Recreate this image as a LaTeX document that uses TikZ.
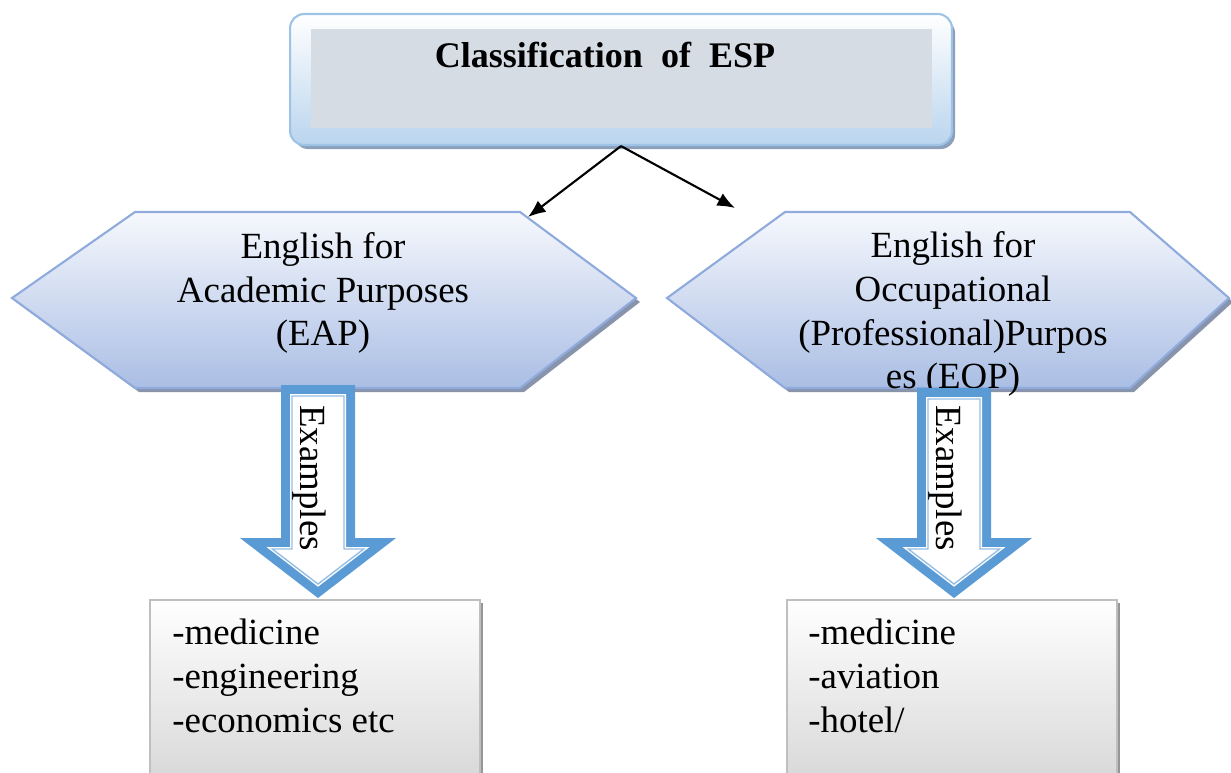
\documentclass[tikz,border=0pt]{standalone}
\usepackage{fontspec}
\setmainfont{Liberation Serif}
\usetikzlibrary{arrows.meta}
\definecolor{hexline}{RGB}{143,170,220}
\definecolor{hextop}{RGB}{246,248,253}
\definecolor{hexbot}{RGB}{170,190,228}
\definecolor{hexshade}{RGB}{135,148,172}
\definecolor{topline}{RGB}{157,195,230}
\definecolor{topblue}{RGB}{186,213,238}
\definecolor{topshade}{RGB}{140,160,188}
\definecolor{innergray}{RGB}{214,220,228}
\definecolor{exblue}{RGB}{91,155,213}
\definecolor{exthin}{RGB}{150,190,228}
\definecolor{listline}{RGB}{191,191,191}
\definecolor{listbot}{RGB}{216,216,216}
\definecolor{listshade}{RGB}{150,150,150}
\tikzset{
  bigtext/.style={font=\fontsize{21}{25}\selectfont},
  topbox/.style={draw=topline,line width=1.2pt,rounded corners=8pt,
    top color=white,bottom color=topblue,
    minimum width=13.24cm,minimum height=2.62cm},
  hexshape/.style={draw=hexline,line width=1.2pt,top color=hextop,bottom color=hexbot},
  hextext/.style={bigtext,align=center,inner sep=0pt},
  listbox/.style={draw=listline,line width=1.2pt,top color=white,bottom color=listbot},
  listtext/.style={bigtext,align=left,inner sep=0pt,anchor=north west},
  link/.style={-{Latex[length=10pt,width=8pt]},line width=1.2pt}
}
\begin{document}
\begin{tikzpicture}[x=0.02cm,y=-0.02cm]
  \useasboundingbox (0,0) rectangle (1231,772);
  % title box
  \fill [topshade,rounded corners=8pt] (294,19) rectangle (955,149);
  \node [topbox] (esp) at (621,79.5) {};
  \fill [innergray] (311,29) rectangle (932,128);
  \node [font=\fontsize{20.5}{25}\selectfont\bfseries] (title) at (605,55) {Classification\ \ of\ \ ESP};
  % connectors
  \coordinate (eapend) at (528,217);
  \coordinate (eopend) at (735,208);
  \draw [link] (esp.south) -- (eapend);
  \draw [link] (esp.south) -- (eopend);
  % the two kinds
  \fill [hexshade] (16,302) -- (139,216) -- (524,216) -- (640,302) -- (524,392) -- (139,392) -- cycle;
  \path [hexshape] (12,298) -- (135,212) -- (520,212) -- (636,298) -- (520,388) -- (135,388) -- cycle;
  \fill [hexshade] (671,302) -- (789,216) -- (1134,216) -- (1233,302) -- (1134,392) -- (789,392) -- cycle;
  \path [hexshape] (667,298) -- (785,212) -- (1130,212) -- (1229,298) -- (1130,388) -- (785,388) -- cycle;
  \node [hextext] (eap) at (323,293) {English for\\Academic Purposes\\(EAP)};
  \node [hextext] (eop) at (953,314) {English for\\Occupational\\(Professional)Purpos\\es (EOP)};
  % examples arrows
  \foreach \cx/\ty in {318/385,954/388} {
    \fill [exblue] ({\cx-37},\ty) -- ({\cx+37},\ty) -- ({\cx+37},538) -- ({\cx+78},538)
      -- (\cx,598) -- ({\cx-78},538) -- ({\cx-37},538) -- cycle;
    \fill [white] ({\cx-28},{\ty+9}) -- ({\cx+28},{\ty+9}) -- ({\cx+28},547) -- ({\cx+51.5},547)
      -- (\cx,586.7) -- ({\cx-51.5},547) -- ({\cx-28},547) -- cycle;
    \draw [exthin,line width=0.8pt] ({\cx-26},{\ty+11}) -- ({\cx+26},{\ty+11}) -- ({\cx+26},549) -- ({\cx+45.7},549)
      -- (\cx,584) -- ({\cx-45.7},549) -- ({\cx-26},549) -- cycle;
    \node [bigtext,rotate=-90] at ({\cx-9},478) {Examples};
  }
  % lists
  \fill [listshade] (153,603) rectangle (483,780);
  \path [listbox] (150,600) rectangle (480,780);
  \fill [listshade] (790,603) rectangle (1120,780);
  \path [listbox] (787,600) rectangle (1117,780);
  \node [listtext] (eaplist) at (172,619) {-medicine\\-engineering\\-economics etc};
  \node [listtext] (eoplist) at (808,619) {-medicine\\-aviation\\-hotel/};
\end{tikzpicture}
\end{document}
